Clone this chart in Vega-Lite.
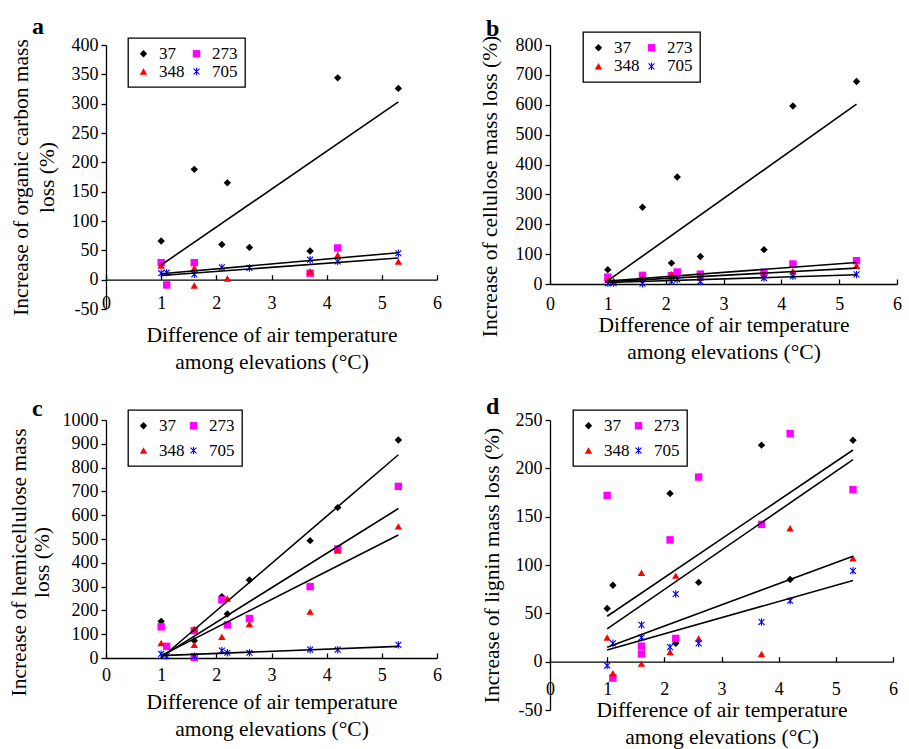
{
  "$schema": "https://vega.github.io/schema/vega-lite/v6.json",
  "padding": {"left": 7, "top": 15, "right": 0, "bottom": 0},
  "background": "white",
  "datasets": {
    "a_pts": [
      {"s": "37", "x": 1.0, "y": 66}, {"s": "37", "x": 1.6, "y": 188}, {"s": "37", "x": 2.1, "y": 60}, {"s": "37", "x": 2.2, "y": 165},
      {"s": "37", "x": 2.6, "y": 55}, {"s": "37", "x": 3.7, "y": 49}, {"s": "37", "x": 4.2, "y": 344}, {"s": "37", "x": 5.3, "y": 326},
      {"s": "273", "x": 1.0, "y": 29}, {"s": "273", "x": 1.1, "y": -9}, {"s": "273", "x": 1.6, "y": 29}, {"s": "273", "x": 3.7, "y": 11}, {"s": "273", "x": 4.2, "y": 54},
      {"s": "348", "x": 1.0, "y": 24}, {"s": "348", "x": 1.6, "y": 20}, {"s": "348", "x": 1.6, "y": -10}, {"s": "348", "x": 2.2, "y": 2},
      {"s": "348", "x": 3.7, "y": 14}, {"s": "348", "x": 4.2, "y": 42}, {"s": "348", "x": 5.3, "y": 31},
      {"s": "705", "x": 1.0, "y": 11}, {"s": "705", "x": 1.1, "y": 12}, {"s": "705", "x": 1.6, "y": 9}, {"s": "705", "x": 2.1, "y": 21},
      {"s": "705", "x": 2.6, "y": 20}, {"s": "705", "x": 3.7, "y": 34}, {"s": "705", "x": 4.2, "y": 31}, {"s": "705", "x": 5.3, "y": 45}
    ],
    "a_lin": [
      {"id": "37", "x": 1.0, "y": 25}, {"id": "37", "x": 5.3, "y": 303},
      {"id": "273", "x": 1.0, "y": 10}, {"id": "273", "x": 5.3, "y": 46},
      {"id": "705", "x": 1.0, "y": 7}, {"id": "705", "x": 5.3, "y": 37}
    ],
    "b_pts": [
      {"s": "37", "x": 1.0, "y": 48}, {"s": "37", "x": 1.6, "y": 257}, {"s": "37", "x": 2.1, "y": 70}, {"s": "37", "x": 2.2, "y": 358},
      {"s": "37", "x": 2.6, "y": 92}, {"s": "37", "x": 3.7, "y": 115}, {"s": "37", "x": 4.2, "y": 596}, {"s": "37", "x": 5.3, "y": 678},
      {"s": "273", "x": 1.0, "y": 23}, {"s": "273", "x": 1.6, "y": 29}, {"s": "273", "x": 2.1, "y": 28}, {"s": "273", "x": 2.2, "y": 40},
      {"s": "273", "x": 2.6, "y": 33}, {"s": "273", "x": 3.7, "y": 39}, {"s": "273", "x": 4.2, "y": 67}, {"s": "273", "x": 5.3, "y": 78},
      {"s": "348", "x": 1.0, "y": 14}, {"s": "348", "x": 1.1, "y": 11}, {"s": "348", "x": 1.6, "y": 20}, {"s": "348", "x": 2.1, "y": 33},
      {"s": "348", "x": 2.6, "y": 22}, {"s": "348", "x": 3.7, "y": 30}, {"s": "348", "x": 4.2, "y": 43}, {"s": "348", "x": 5.3, "y": 61},
      {"s": "705", "x": 1.0, "y": 2}, {"s": "705", "x": 1.1, "y": 3}, {"s": "705", "x": 1.6, "y": 1}, {"s": "705", "x": 2.1, "y": 9},
      {"s": "705", "x": 2.2, "y": 15}, {"s": "705", "x": 2.6, "y": 9}, {"s": "705", "x": 3.7, "y": 20}, {"s": "705", "x": 4.2, "y": 26}, {"s": "705", "x": 5.3, "y": 32}
    ],
    "b_lin": [
      {"id": "37", "x": 1.0, "y": 11}, {"id": "37", "x": 5.3, "y": 602},
      {"id": "273", "x": 1.0, "y": 10}, {"id": "273", "x": 5.3, "y": 72},
      {"id": "348", "x": 1.0, "y": 8}, {"id": "348", "x": 5.3, "y": 53},
      {"id": "705", "x": 1.0, "y": 5}, {"id": "705", "x": 5.3, "y": 31}
    ],
    "c_pts": [
      {"s": "37", "x": 1.0, "y": 154}, {"s": "37", "x": 1.6, "y": 73}, {"s": "37", "x": 2.1, "y": 258}, {"s": "37", "x": 2.2, "y": 185},
      {"s": "37", "x": 2.6, "y": 328}, {"s": "37", "x": 3.7, "y": 493}, {"s": "37", "x": 4.2, "y": 632}, {"s": "37", "x": 5.3, "y": 916},
      {"s": "273", "x": 1.0, "y": 131}, {"s": "273", "x": 1.1, "y": 49}, {"s": "273", "x": 1.6, "y": 115}, {"s": "273", "x": 1.6, "y": 3},
      {"s": "273", "x": 2.1, "y": 244}, {"s": "273", "x": 2.2, "y": 139}, {"s": "273", "x": 2.6, "y": 166}, {"s": "273", "x": 3.7, "y": 300},
      {"s": "273", "x": 4.2, "y": 458}, {"s": "273", "x": 5.3, "y": 721},
      {"s": "348", "x": 1.0, "y": 63}, {"s": "348", "x": 1.6, "y": 122}, {"s": "348", "x": 1.6, "y": 55}, {"s": "348", "x": 2.1, "y": 89},
      {"s": "348", "x": 2.2, "y": 250}, {"s": "348", "x": 2.6, "y": 143}, {"s": "348", "x": 3.7, "y": 195}, {"s": "348", "x": 4.2, "y": 451}, {"s": "348", "x": 5.3, "y": 553},
      {"s": "705", "x": 1.0, "y": 17}, {"s": "705", "x": 1.1, "y": 8}, {"s": "705", "x": 1.6, "y": 8}, {"s": "705", "x": 2.1, "y": 31},
      {"s": "705", "x": 2.2, "y": 22}, {"s": "705", "x": 2.6, "y": 22}, {"s": "705", "x": 3.7, "y": 35}, {"s": "705", "x": 4.2, "y": 35}, {"s": "705", "x": 5.3, "y": 55}
    ],
    "c_lin": [
      {"id": "37", "x": 1.0, "y": 0}, {"id": "37", "x": 5.3, "y": 854},
      {"id": "273", "x": 1.0, "y": 5}, {"id": "273", "x": 5.3, "y": 628},
      {"id": "348", "x": 1.0, "y": 10}, {"id": "348", "x": 5.3, "y": 517},
      {"id": "705", "x": 1.0, "y": 10}, {"id": "705", "x": 5.3, "y": 49}
    ],
    "d_pts": [
      {"s": "37", "x": 1.0, "y": 55}, {"s": "37", "x": 1.1, "y": 79}, {"s": "37", "x": 2.1, "y": 174}, {"s": "37", "x": 2.2, "y": 19},
      {"s": "37", "x": 2.6, "y": 82}, {"s": "37", "x": 3.7, "y": 224}, {"s": "37", "x": 4.2, "y": 85}, {"s": "37", "x": 5.3, "y": 229},
      {"s": "273", "x": 1.0, "y": 172}, {"s": "273", "x": 1.1, "y": -17}, {"s": "273", "x": 1.6, "y": 16}, {"s": "273", "x": 1.6, "y": 8},
      {"s": "273", "x": 2.1, "y": 126}, {"s": "273", "x": 2.2, "y": 24}, {"s": "273", "x": 2.6, "y": 191}, {"s": "273", "x": 3.7, "y": 142},
      {"s": "273", "x": 4.2, "y": 236}, {"s": "273", "x": 5.3, "y": 178},
      {"s": "348", "x": 1.0, "y": 25}, {"s": "348", "x": 1.1, "y": -12}, {"s": "348", "x": 1.6, "y": 92}, {"s": "348", "x": 1.6, "y": -2},
      {"s": "348", "x": 2.1, "y": 10}, {"s": "348", "x": 2.2, "y": 89}, {"s": "348", "x": 2.6, "y": 24}, {"s": "348", "x": 3.7, "y": 8},
      {"s": "348", "x": 4.2, "y": 138}, {"s": "348", "x": 5.3, "y": 107},
      {"s": "705", "x": 1.0, "y": -4}, {"s": "705", "x": 1.1, "y": 19}, {"s": "705", "x": 1.6, "y": 38}, {"s": "705", "x": 1.6, "y": 25},
      {"s": "705", "x": 2.1, "y": 15}, {"s": "705", "x": 2.2, "y": 70}, {"s": "705", "x": 2.6, "y": 19}, {"s": "705", "x": 3.7, "y": 41},
      {"s": "705", "x": 4.2, "y": 63}, {"s": "705", "x": 5.3, "y": 94}
    ],
    "d_lin": [
      {"id": "37", "x": 1.0, "y": 47}, {"id": "37", "x": 5.3, "y": 219},
      {"id": "273", "x": 1.0, "y": 34}, {"id": "273", "x": 5.3, "y": 209},
      {"id": "348", "x": 1.0, "y": 15}, {"id": "348", "x": 5.3, "y": 109},
      {"id": "705", "x": 1.0, "y": 12}, {"id": "705", "x": 5.3, "y": 84}
    ]
  },
  "columns": 2,
  "bounds": "flush",
  "spacing": {"row": 111, "column": 113},
  "resolve": {"scale": {"color": "independent", "shape": "independent", "stroke": "independent"}},
  "concat": [
    {
      "width": 331, "height": 264,
      "title": {"text": "a", "dx": -74, "offset": -3},
      "layer": [
        {
          "data": {"name": "a_pts"},
          "mark": {"type": "point", "filled": true, "opacity": 1, "strokeWidth": 1.1, "size": 55},
          "encoding": {
            "x": {"field": "x", "type": "quantitative", "scale": {"domain": [0, 6], "nice": false},
              "axis": {"values": [0, 1, 2, 3, 4, 5, 6], "tickCount": 20, "offset": -29.33, "tickSize": -5, "labelPadding": 19.5, "titlePadding": 12,
                "title": ["Difference of air temperature", "among elevations (°C)"]}},
            "y": {"field": "y", "type": "quantitative", "scale": {"domain": [-50, 400], "nice": false},
              "axis": {"values": [-50, 0, 50, 100, 150, 200, 250, 300, 350, 400], "tickCount": 20, "titlePadding": 13, "titleLineHeight": 26,
                "title": ["Increase of organic carbon mass", "loss  (%)"]}},
            "color": {"field": "s", "type": "nominal", "scale": {"domain": ["37", "273", "348", "705"], "range": ["#000000", "#ff00ff", "#ff0000", "#0000ff"]},
              "legend": {"title": null, "orient": "none", "direction": "horizontal", "legendX": 22, "legendY": -7, "columns": 2, "columnPadding": 3, "rowPadding": 0}},
            "shape": {"field": "s", "type": "nominal", "scale": {"domain": ["37", "273", "348", "705"], "range": ["diamond", "square", "triangle-up", "M-0.8,-0.8L0.8,0.8M-0.8,0.8L0.8,-0.8M0,-1L0,1"]},
              "legend": {"title": null, "orient": "none", "direction": "horizontal", "legendX": 22, "legendY": -7, "columns": 2, "columnPadding": 3, "rowPadding": 0}},
            "stroke": {"field": "s", "type": "nominal", "scale": {"domain": ["37", "273", "348", "705"], "range": ["transparent", "transparent", "transparent", "#0000ff"]},
              "legend": {"title": null, "orient": "none", "direction": "horizontal", "legendX": 22, "legendY": -7, "columns": 2, "columnPadding": 3, "rowPadding": 0}}
          }
        },
        {
          "data": {"name": "a_lin"},
          "mark": {"type": "line", "color": "black", "strokeWidth": 1.6},
          "encoding": {"x": {"field": "x", "type": "quantitative"}, "y": {"field": "y", "type": "quantitative"}, "detail": {"field": "id", "type": "nominal"}}
        }
      ]
    },
    {
      "width": 347, "height": 239,
      "title": {"text": "b", "dx": -64, "offset": -10},
      "layer": [
        {
          "data": {"name": "b_pts"},
          "mark": {"type": "point", "filled": true, "opacity": 1, "strokeWidth": 1.1, "size": 55},
          "encoding": {
            "x": {"field": "x", "type": "quantitative", "scale": {"domain": [0, 6], "nice": false},
              "axis": {"values": [0, 1, 2, 3, 4, 5, 6], "tickCount": 20, "tickSize": -5, "labelPadding": 16.5, "titlePadding": 1,
                "title": ["Difference of air temperature", "among elevations (°C)"]}},
            "y": {"field": "y", "type": "quantitative", "scale": {"domain": [0, 800], "nice": false},
              "axis": {"values": [0, 100, 200, 300, 400, 500, 600, 700, 800], "tickCount": 20, "titlePadding": 14, "titleY": 141,
                "title": "Increase of cellulose mass loss (%)"}},
            "color": {"field": "s", "type": "nominal", "scale": {"domain": ["37", "273", "348", "705"], "range": ["#000000", "#ff00ff", "#ff0000", "#0000ff"]},
              "legend": {"title": null, "orient": "none", "direction": "horizontal", "legendX": 33, "legendY": -13, "columns": 2, "columnPadding": 3, "rowPadding": 0.8}},
            "shape": {"field": "s", "type": "nominal", "scale": {"domain": ["37", "273", "348", "705"], "range": ["diamond", "square", "triangle-up", "M-0.8,-0.8L0.8,0.8M-0.8,0.8L0.8,-0.8M0,-1L0,1"]},
              "legend": {"title": null, "orient": "none", "direction": "horizontal", "legendX": 33, "legendY": -13, "columns": 2, "columnPadding": 3, "rowPadding": 0.8}},
            "stroke": {"field": "s", "type": "nominal", "scale": {"domain": ["37", "273", "348", "705"], "range": ["transparent", "transparent", "transparent", "#0000ff"]},
              "legend": {"title": null, "orient": "none", "direction": "horizontal", "legendX": 33, "legendY": -13, "columns": 2, "columnPadding": 3, "rowPadding": 0.8}}
          }
        },
        {
          "data": {"name": "b_lin"},
          "mark": {"type": "line", "color": "black", "strokeWidth": 1.6},
          "encoding": {"x": {"field": "x", "type": "quantitative"}, "y": {"field": "y", "type": "quantitative"}, "detail": {"field": "id", "type": "nominal"}}
        }
      ]
    },
    {
      "width": 331, "height": 238,
      "title": {"text": "c", "dx": -74, "offset": -12},
      "layer": [
        {
          "data": {"name": "c_pts"},
          "mark": {"type": "point", "filled": true, "opacity": 1, "strokeWidth": 1.1, "size": 55},
          "encoding": {
            "x": {"field": "x", "type": "quantitative", "scale": {"domain": [0, 6], "nice": false},
              "axis": {"values": [0, 1, 2, 3, 4, 5, 6], "tickCount": 20, "tickSize": -5, "labelPadding": 13.5, "titlePadding": 6.5,
                "title": ["Difference of air temperature", "among elevations (°C)"]}},
            "y": {"field": "y", "type": "quantitative", "scale": {"domain": [0, 1000], "nice": false},
              "axis": {"values": [0, 100, 200, 300, 400, 500, 600, 700, 800, 900, 1000], "tickCount": 20, "titlePadding": 9, "titleY": 142, "titleLineHeight": 23,
                "title": ["Increase of hemicellulose mass", "loss (%)"]}},
            "color": {"field": "s", "type": "nominal", "scale": {"domain": ["37", "273", "348", "705"], "range": ["#000000", "#ff00ff", "#ff0000", "#0000ff"]},
              "legend": {"title": null, "orient": "none", "direction": "horizontal", "legendX": 22, "legendY": -10, "columns": 2, "columnPadding": -9, "rowPadding": 7}},
            "shape": {"field": "s", "type": "nominal", "scale": {"domain": ["37", "273", "348", "705"], "range": ["diamond", "square", "triangle-up", "M-0.8,-0.8L0.8,0.8M-0.8,0.8L0.8,-0.8M0,-1L0,1"]},
              "legend": {"title": null, "orient": "none", "direction": "horizontal", "legendX": 22, "legendY": -10, "columns": 2, "columnPadding": -9, "rowPadding": 7}},
            "stroke": {"field": "s", "type": "nominal", "scale": {"domain": ["37", "273", "348", "705"], "range": ["transparent", "transparent", "transparent", "#0000ff"]},
              "legend": {"title": null, "orient": "none", "direction": "horizontal", "legendX": 22, "legendY": -10, "columns": 2, "columnPadding": -9, "rowPadding": 7}}
          }
        },
        {
          "data": {"name": "c_lin"},
          "mark": {"type": "line", "color": "black", "strokeWidth": 1.6},
          "encoding": {"x": {"field": "x", "type": "quantitative"}, "y": {"field": "y", "type": "quantitative"}, "detail": {"field": "id", "type": "nominal"}}
        }
      ]
    },
    {
      "width": 343, "height": 290,
      "title": {"text": "d", "dx": -64, "offset": -10},
      "layer": [
        {
          "data": {"name": "d_pts"},
          "mark": {"type": "point", "filled": true, "opacity": 1, "strokeWidth": 1.1, "size": 55},
          "encoding": {
            "x": {"field": "x", "type": "quantitative", "scale": {"domain": [0, 6], "nice": false},
              "axis": {"values": [0, 1, 2, 3, 4, 5, 6], "tickCount": 20, "offset": -48.33, "tickSize": -5, "labelPadding": 24, "titlePadding": 1,
                "title": ["Difference of air temperature", "among elevations (°C)"]}},
            "y": {"field": "y", "type": "quantitative", "scale": {"domain": [-50, 250], "nice": false},
              "axis": {"values": [-50, 0, 50, 100, 150, 200, 250], "tickCount": 20, "titlePadding": 12,
                "title": "Increase of lignin mass loss  (%)"}},
            "color": {"field": "s", "type": "nominal", "scale": {"domain": ["37", "273", "348", "705"], "range": ["#000000", "#ff00ff", "#ff0000", "#0000ff"]},
              "legend": {"title": null, "orient": "none", "direction": "horizontal", "legendX": 23, "legendY": -10, "columns": 2, "columnPadding": -2, "rowPadding": 7}},
            "shape": {"field": "s", "type": "nominal", "scale": {"domain": ["37", "273", "348", "705"], "range": ["diamond", "square", "triangle-up", "M-0.8,-0.8L0.8,0.8M-0.8,0.8L0.8,-0.8M0,-1L0,1"]},
              "legend": {"title": null, "orient": "none", "direction": "horizontal", "legendX": 23, "legendY": -10, "columns": 2, "columnPadding": -2, "rowPadding": 7}},
            "stroke": {"field": "s", "type": "nominal", "scale": {"domain": ["37", "273", "348", "705"], "range": ["transparent", "transparent", "transparent", "#0000ff"]},
              "legend": {"title": null, "orient": "none", "direction": "horizontal", "legendX": 23, "legendY": -10, "columns": 2, "columnPadding": -2, "rowPadding": 7}}
          }
        },
        {
          "data": {"name": "d_lin"},
          "mark": {"type": "line", "color": "black", "strokeWidth": 1.6},
          "encoding": {"x": {"field": "x", "type": "quantitative"}, "y": {"field": "y", "type": "quantitative"}, "detail": {"field": "id", "type": "nominal"}}
        }
      ]
    }
  ],
  "config": {
    "font": "Liberation Serif",
    "view": {"stroke": null},
    "axis": {
      "grid": false, "labelFont": "Liberation Serif", "labelFontSize": 18, "labelColor": "black", "labelFlush": false,
      "labelOverlap": false, "format": "d",
      "labelExpr": "datum.value < 0 ? '-' + (-datum.value) : datum.label",
      "titleFont": "Liberation Serif", "titleFontSize": 21.5, "titleFontWeight": "normal", "titleColor": "black", "titleLineHeight": 27,
      "domainColor": "black", "domainWidth": 1.3, "tickColor": "black", "tickWidth": 1.3
    },
    "axisY": {"tickSize": 5, "labelPadding": 3},
    "legend": {
      "labelFont": "Liberation Serif", "labelFontSize": 17, "labelColor": "black", "strokeColor": "black", "strokeWidth": 1.3,
      "fillColor": "white", "padding": 7, "symbolSize": 55, "labelOffset": 7, "symbolStrokeWidth": 1.1, "symbolOpacity": 1
    },
    "title": {"anchor": "start", "frame": "group", "font": "Liberation Serif", "fontSize": 24, "fontWeight": "bold", "color": "black", "baseline": "alphabetic"}
  }
}
